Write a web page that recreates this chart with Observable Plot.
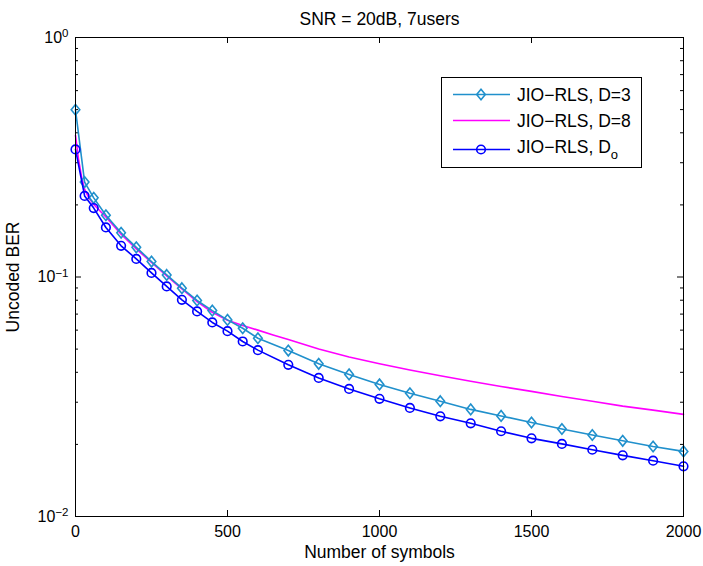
<!DOCTYPE html>
<html><head><meta charset="utf-8">
<script src="https://cdn.jsdelivr.net/npm/d3@7"></script>
<script src="https://cdn.jsdelivr.net/npm/@observablehq/plot@0.6"></script>
<style>
body{margin:0;background:#fff;}
#wrap{position:relative;width:703px;height:566px;font-family:"Liberation Sans",Arial,sans-serif;}
</style></head><body><div id="wrap"></div>
<script>
const titleText = "SNR = 20dB, 7users";
const xLabel = "Number of symbols";
const yLabel = "Uncoded BER";
const seriesNames = ["JIO−RLS, D=3", "JIO−RLS, D=8", "JIO−RLS, D"];
const seriesSub = ["", "", "o"];
const seriesColors = ["#2090cc", "#ff00ff", "#0000ff"];
const xTicks = [0, 500, 1000, 1500, 2000];
const yTicks = [0.01, 0.1, 1];
const yTickExps = ["−2", "−1", "0"];
const yMinor = [0.02,0.03,0.04,0.05,0.06,0.07,0.08,0.09,0.2,0.3,0.4,0.5,0.6,0.7,0.8,0.9];

const d3Symbols = [0,30,60,100,150,200,250,300,350,400,450,500,550,600,700,800,900,1000,1100,1200,1300,1400,1500,1600,1700,1800,1900,2000];
const d3Ber = [0.499,0.249,0.214,0.181,0.153,0.133,0.116,0.102,0.0898,0.0798,0.0724,0.0662,0.0611,0.0555,0.0493,0.0434,0.0392,0.0356,0.0327,0.0303,0.0280,0.0263,0.0247,0.0232,0.0219,0.0207,0.0196,0.0187];

const doSymbols = [0,30,60,100,150,200,250,300,350,400,450,500,550,600,700,800,900,1000,1100,1200,1300,1400,1500,1600,1700,1800,1900,2000];
const doBer = [0.341,0.218,0.194,0.161,0.135,0.119,0.104,0.0913,0.0803,0.0718,0.0646,0.0594,0.0538,0.0495,0.0430,0.0379,0.0341,0.0310,0.0284,0.0262,0.0245,0.0227,0.0212,0.0201,0.0190,0.0180,0.0171,0.0162];

const d8Symbols = [0,10,20,30,45,60,80,100,150,200,250,300,350,400,450,500,550,600,650,700,800,900,1000,1100,1200,1300,1400,1500,1600,1700,1800,1900,2000];
const d8Ber = [0.39,0.31,0.262,0.232,0.213,0.201,0.189,0.178,0.151,0.131,0.115,0.101,0.0893,0.0790,0.0712,0.0660,0.0628,0.0600,0.0573,0.0548,0.0500,0.0463,0.0434,0.0409,0.0387,0.0367,0.0349,0.0333,0.0317,0.0303,0.0289,0.0278,0.0267];

const toRows = (xs, ys) => xs.map((s, i) => ({s, v: ys[i]}));
const rowsD3 = toRows(d3Symbols, d3Ber);
const rowsDo = toRows(doSymbols, doBer);
const rowsD8 = toRows(d8Symbols, d8Ber);

const W = 703, H = 566, mL = 75, mR = 20, mT = 37, mB = 50;
const fw = W - mL - mR, fh = H - mT - mB;

const diamond = {draw(ctx) { const w = 4.3, h = 5.3; ctx.moveTo(0, -h); ctx.lineTo(w, 0); ctx.lineTo(0, h); ctx.lineTo(-w, 0); ctx.closePath(); }};

const font = "Liberation Sans, Arial, sans-serif";
const svg = Plot.plot({
  width: W, height: H,
  marginLeft: mL, marginRight: mR, marginTop: mT, marginBottom: mB,
  style: {fontFamily: font, fontSize: "16px", background: "white", color: "black"},
  x: {domain: [0, 2000]},
  y: {type: "log", domain: [0.01, 1]},
  marks: [
    Plot.tickY(yTicks, {y: d => d, stroke: "black", insetRight: fw - 6}),
    Plot.tickY(yTicks, {y: d => d, stroke: "black", insetLeft: fw - 6}),
    Plot.tickY(yMinor, {y: d => d, stroke: "black", insetRight: fw - 3}),
    Plot.tickY(yMinor, {y: d => d, stroke: "black", insetLeft: fw - 3}),
    Plot.tickX(xTicks, {x: d => d, stroke: "black", insetTop: fh - 6}),
    Plot.tickX(xTicks, {x: d => d, stroke: "black", insetBottom: fh - 6}),
    Plot.axisY({ticks: yTicks, tickSize: 0, tickPadding: 7, tickFormat: () => "10", label: null, fontSize: 16}),
    Plot.axisX({ticks: xTicks, tickSize: 0, tickPadding: 9, tickFormat: d => String(d), label: null, fontSize: 16}),
    Plot.line(rowsD8, {x: "s", y: "v", stroke: seriesColors[1], strokeWidth: 1.6}),
    Plot.line(rowsD3, {x: "s", y: "v", stroke: seriesColors[0], strokeWidth: 1.6}),
    Plot.dot(rowsD3, {x: "s", y: "v", stroke: seriesColors[0], symbol: diamond, r: 4, strokeWidth: 1.6, fill: "none"}),
    Plot.line(rowsDo, {x: "s", y: "v", stroke: seriesColors[2], strokeWidth: 1.6}),
    Plot.dot(rowsDo, {x: "s", y: "v", stroke: seriesColors[2], symbol: "circle", r: 4.3, strokeWidth: 1.6, fill: "none"}),
    Plot.frame({stroke: "black", strokeWidth: 1}),
    Plot.text([titleText], {frameAnchor: "top", lineAnchor: "middle", textAnchor: "middle", dy: -18, fontSize: 17.5}),
    Plot.text([xLabel], {frameAnchor: "bottom", lineAnchor: "middle", textAnchor: "middle", dy: 36, fontSize: 17.5}),
    Plot.text([yLabel], {frameAnchor: "left", lineAnchor: "middle", textAnchor: "middle", dx: -62, rotate: -90, fontSize: 17.5})
  ]
});

d3.select(svg).selectAll('g[aria-label="y-axis tick label"] text').each(function(_, i) {
  const t = d3.select(this);
  t.text(null);
  t.append("tspan").text("10");
  t.append("tspan").attr("dy", "-0.45em").attr("font-size", 11.5).text(yTickExps[i]);
});

const wrap = document.getElementById("wrap");
wrap.appendChild(svg);

// legend overlay
const leg = d3.select(wrap).append("svg")
  .attr("width", W).attr("height", H)
  .style("position", "absolute").style("left", "0px").style("top", "0px")
  .style("font-family", font);
leg.append("rect").attr("x", 441.5).attr("y", 77.5).attr("width", 200).attr("height", 90)
  .attr("fill", "white").attr("stroke", "black").attr("stroke-width", 1);
const lineY = [94.5, 120.5, 149.5];
const baseY = [100.7, 126.7, 153.3];
seriesNames.forEach((name, i) => {
  leg.append("line").attr("x1", 453).attr("x2", 510).attr("y1", lineY[i]).attr("y2", lineY[i])
    .attr("stroke", seriesColors[i]).attr("stroke-width", 1.6);
  if (i === 0) {
    leg.append("path").attr("d", "M481,89.2L485.3,94.5L481,99.8L476.7,94.5Z")
      .attr("fill", "none").attr("stroke", seriesColors[i]).attr("stroke-width", 1.6);
  } else if (i === 2) {
    leg.append("circle").attr("cx", 481).attr("cy", lineY[i]).attr("r", 4.3)
      .attr("fill", "none").attr("stroke", seriesColors[i]).attr("stroke-width", 1.6);
  }
  const t = leg.append("text").attr("x", 517).attr("y", baseY[i]).attr("font-size", 17.5).attr("fill", "black");
  t.append("tspan").text(name);
  if (seriesSub[i]) t.append("tspan").attr("dy", 6).attr("font-size", 13).text(seriesSub[i]);
});
</script></body></html>
